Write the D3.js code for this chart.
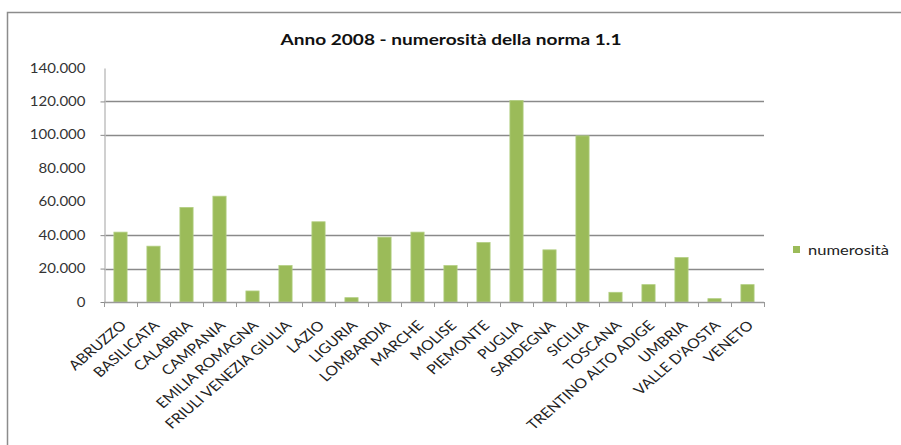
<!DOCTYPE html>
<html>
<head>
<meta charset="utf-8">
<script src="https://cdn.jsdelivr.net/npm/d3@7"></script>
<style>
  html, body { margin: 0; padding: 0; background: #fff; }
  svg { display: block; font-family: Lato, "Open Sans", sans-serif; }
</style>
</head>
<body>
<svg id="chart" width="901" height="445"></svg>
<script>
// Regions and the number of cases per region (2008)
const regions = ["ABRUZZO", "BASILICATA", "CALABRIA", "CAMPANIA", "EMILIA ROMAGNA",
  "FRIULI VENEZIA GIULIA", "LAZIO", "LIGURIA", "LOMBARDIA", "MARCHE", "MOLISE",
  "PIEMONTE", "PUGLIA", "SARDEGNA", "SICILIA", "TOSCANA", "TRENTINO ALTO ADIGE",
  "UMBRIA", "VALLE D'AOSTA", "VENETO"];
const numerosita = [41800, 33400, 56600, 63300, 6600, 21800, 48000, 2600, 38800, 41800,
  21800, 35600, 120600, 31200, 99400, 5800, 10400, 26600, 2000, 10400];
const yTicks = [0, 20000, 40000, 60000, 80000, 100000, 120000, 140000];
const gridTicks = [20000, 40000, 100000, 120000];
const seriesName = "numerosità";
const title = "Anno 2008 - numerosità della norma 1.1";

const svg = d3.select("#chart");
const margin = { left: 104, right: 137, top: 68, bottom: 143 };
const W = 901, H = 445;
const x0 = margin.left, x1 = W - margin.right;
const y0 = H - margin.bottom, y1 = margin.top;

// outer frame of the chart area
svg.append("rect")
  .attr("x", 7.5).attr("y", 12.5).attr("width", 900).attr("height", 440)
  .attr("fill", "#fff").attr("stroke", "#8c8c8c").attr("stroke-width", 1.5);

// title, drawn slightly widened horizontally
svg.append("text")
  .attr("transform", `translate(451,45) scale(1.27,1)`)
  .attr("text-anchor", "middle")
  .attr("font-size", 15).attr("font-weight", "bold").attr("fill", "#111")
  .text(title);

const x = d3.scaleBand().domain(regions).range([x0, x1]).paddingInner(0.6).paddingOuter(0.3);
const xTickScale = d3.scaleLinear().domain([0, regions.length]).range([x0, x1]);
const y = d3.scaleLinear().domain([0, 140000]).range([y0, y1]);

// horizontal gridlines
svg.append("g").selectAll("line").data(gridTicks).join("line")
  .attr("x1", x0).attr("x2", x1)
  .attr("y1", d => Math.round(y(d)) + 0.5).attr("y2", d => Math.round(y(d)) + 0.5)
  .attr("stroke", "#8a8a8a").attr("stroke-width", 1.3);

// y axis
const yAxis = d3.axisLeft(y).tickValues(yTicks).tickSize(0).tickPadding(0)
  .tickFormat(d => d3.format(",")(d).replace(/,/g, "."));
const gy = svg.append("g").attr("transform", `translate(${x0 + 0.5},0)`).call(yAxis);
gy.select(".domain").attr("stroke", "#c0c0c0").attr("stroke-width", 1.5);
gy.selectAll("text")
  .attr("x", null)
  .attr("transform", `translate(-19,0) scale(1.2,1)`)
  .attr("font-size", 12.5).attr("fill", "#333")
  .attr("font-family", "Lato, sans-serif");
gy.selectAll(".tick").filter(d => gridTicks.includes(d) || d === 0).append("line")
  .attr("x1", -4).attr("x2", 0).attr("stroke", "#8a8a8a");

// bars
svg.append("g").selectAll("rect").data(regions).join("rect")
  .attr("x", d => x(d)).attr("width", x.bandwidth())
  .attr("y", (d, i) => y(numerosita[i]))
  .attr("height", (d, i) => y0 - y(numerosita[i]))
  .attr("fill", "#9bbb59").attr("stroke", "#b3cf83").attr("stroke-width", 0.8);

// x axis line and tick marks at category boundaries
svg.append("line").attr("x1", x0).attr("x2", x1)
  .attr("y1", y0 + 0.5).attr("y2", y0 + 0.5)
  .attr("stroke", "#9a9a9a").attr("stroke-width", 1.3);
svg.append("g").selectAll("line").data(d3.range(regions.length + 1)).join("line")
  .attr("x1", d => Math.round(xTickScale(d)) + 0.5).attr("x2", d => Math.round(xTickScale(d)) + 0.5)
  .attr("y1", y0).attr("y2", y0 + 5)
  .attr("stroke", "#9a9a9a");

// rotated category labels
svg.append("g").selectAll("text").data(regions).join("text")
  .attr("transform", d => `translate(${x(d) + x.bandwidth() / 2 + 3},${y0 + 21}) scale(1.17,1) rotate(-45)`)
  .attr("text-anchor", "end").attr("font-size", 13.5).attr("fill", "#222")
  .attr("dy", "0.35em")
  .text(d => d);

// legend
const lg = svg.append("g").attr("transform", "translate(793,246)");
lg.append("rect").attr("width", 7).attr("height", 7).attr("fill", "#9bbb59");
lg.append("text").attr("transform", "translate(15,4) scale(1.27,1)").attr("dy", "0.35em")
  .attr("font-size", 13).attr("fill", "#222").text(seriesName);
</script>
</body>
</html>
